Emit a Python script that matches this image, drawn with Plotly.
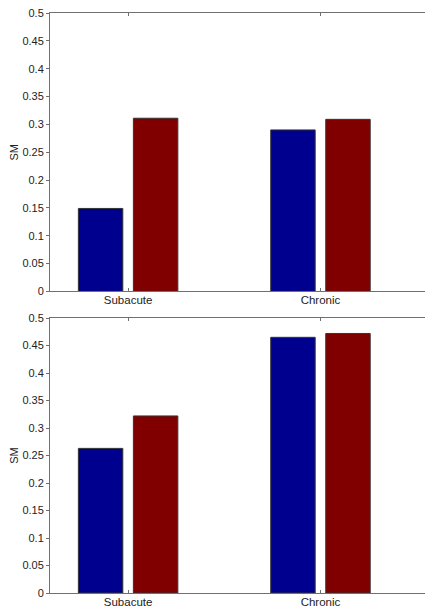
import plotly.graph_objects as go

categories = ["Subacute", "Chronic"]
cat_pos = [1, 2]
top_blue = [0.149, 0.290]
top_red = [0.311, 0.309]
bot_blue = [0.263, 0.465]
bot_red = [0.322, 0.472]
y_ticks = [0, 0.05, 0.1, 0.15, 0.2, 0.25, 0.3, 0.35, 0.4, 0.45, 0.5]
y_tick_text = ["0", "0.05", "0.1", "0.15", "0.2", "0.25", "0.3", "0.35", "0.4", "0.45", "0.5"]

BLUE = "#00008F"
RED = "#800000"
OUTLINE = "#333333"
AXC = "#707070"
FONT = dict(family="Liberation Sans, Arial, sans-serif", size=11, color="#222222")
XFONT = dict(family="Liberation Sans, Arial, sans-serif", size=11.5, color="#222222")

W = 0.231
GAP = 0.0275

fig = go.Figure()

def add_pair(blue, red, xa, ya):
    fig.add_trace(go.Bar(x=cat_pos, y=blue, width=W, offset=-GAP - W,
                         marker=dict(color=BLUE, line=dict(color=OUTLINE, width=1)),
                         xaxis=xa, yaxis=ya, showlegend=False, hoverinfo="skip"))
    fig.add_trace(go.Bar(x=cat_pos, y=red, width=W, offset=GAP,
                         marker=dict(color=RED, line=dict(color=OUTLINE, width=1)),
                         xaxis=xa, yaxis=ya, showlegend=False, hoverinfo="skip"))

add_pair(top_blue, top_red, "x", "y")
add_pair(bot_blue, bot_red, "x2", "y2")

# invisible traces for right-side tick axes
fig.add_trace(go.Scatter(x=[None], y=[None], xaxis="x", yaxis="y3", showlegend=False, hoverinfo="skip"))
fig.add_trace(go.Scatter(x=[None], y=[None], xaxis="x2", yaxis="y4", showlegend=False, hoverinfo="skip"))

xrange = [0.594, 2.585]

def xax(anchor):
    return dict(range=xrange, tickvals=cat_pos, ticktext=categories, ticks="inside",
                ticklen=3, tickcolor=AXC, showline=True, linecolor=AXC, linewidth=1,
                mirror="ticks", showgrid=False, zeroline=False, tickfont=XFONT,
                anchor=anchor, domain=[0, 1], fixedrange=True, automargin=False,
                ticklabelstandoff=-2, ticklabeloverflow="allow")

def yax(anchor, domain):
    return dict(range=[0, 0.5], tickvals=y_ticks, ticktext=y_tick_text, ticks="outside",
                ticklen=3, tickcolor=AXC, showline=True, linecolor=AXC, linewidth=1,
                mirror=False, showgrid=False, zeroline=False, tickfont=FONT,
                title=dict(text="SM", font=FONT, standoff=1), anchor=anchor, domain=domain,
                fixedrange=True, automargin=False, ticklabeloverflow="allow")

def yright(overlay, anchor):
    return dict(range=[0, 0.5], tickvals=y_ticks, ticks="inside", ticklen=3, tickcolor=AXC,
                showticklabels=False, showline=False, showgrid=False, zeroline=False,
                overlaying=overlay, side="right", anchor=anchor, fixedrange=True,
                automargin=False)

# the page body has an 8 px default margin, so the figure is sized to fit after it
fig.update_layout(
    width=425, height=601,
    margin=dict(l=42, r=0, t=5, b=15.5),
    paper_bgcolor="white", plot_bgcolor="white",
    barmode="overlay",
    font=FONT,
    xaxis=xax("y"),
    yaxis=yax("x", [0.52, 1]),
    xaxis2=xax("y2"),
    yaxis2=yax("x2", [0, 0.474]),
    yaxis3=yright("y", "x"),
    yaxis4=yright("y2", "x2"),
)

fig.write_html("out.html", config=dict(displayModeBar=False))
